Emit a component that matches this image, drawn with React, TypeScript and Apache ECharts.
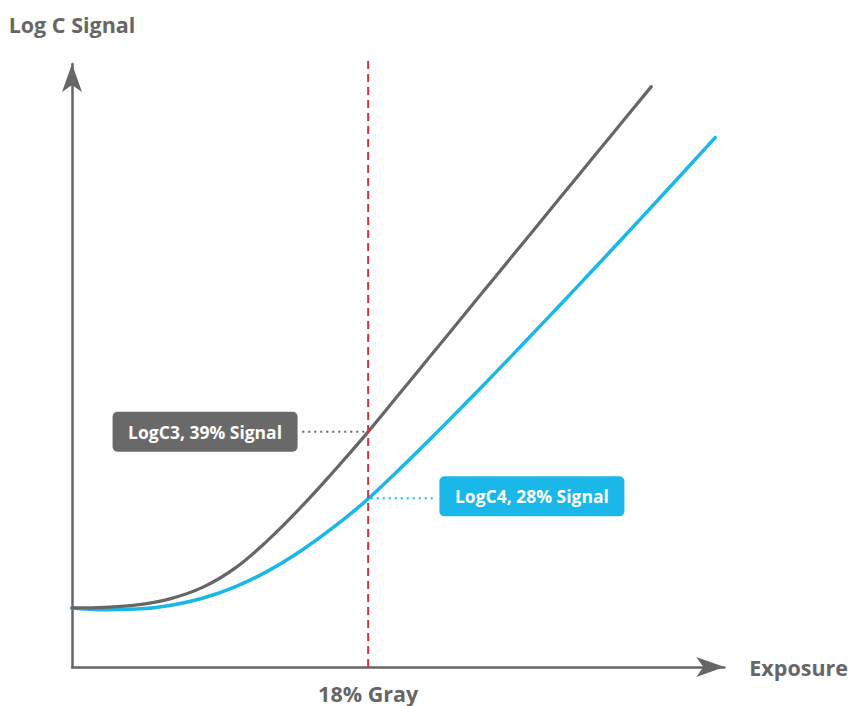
import React, { useEffect, useRef } from "react";
import * as echarts from "echarts";

// Exposure (arbitrary linear units, 0-100) and Log C signal (%)
const logC3X = [0, 5, 10, 15, 20, 25, 30, 35, 40, 45, 50, 55, 60, 65, 70, 75, 80, 85, 88.8];
const logC3Y = [9.8, 9.9, 10.3, 11.3, 13.2, 16.4, 21.0, 26.4, 32.3, 38.5, 45.05, 51.65, 58.25, 64.85, 71.45, 78.05, 84.65, 91.25, 96.25];
const logC4X = [0, 5, 10, 15, 20, 25, 30, 35, 40, 45, 50, 55, 60, 65, 70, 75, 80, 85, 90, 95, 98.6];
const logC4Y = [9.8, 9.5, 9.6, 10.2, 11.4, 13.3, 15.9, 19.2, 23.1, 27.5, 32.6, 37.9, 43.35, 48.9, 54.55, 60.25, 66.0, 71.8, 77.65, 83.55, 87.8];

const grayX = 45.4; // 18% gray exposure
const grayLineY = [0, 101.2];
const logC3Signal = 39;
const logC4Signal = 28;
const logC3ConnectorX = [35.3, 45.4];
const logC4ConnectorX = [45.8, 55.6];
const logC3LabelPos = [20.4, 39.0];
const logC4LabelPos = [70.5, 28.3];

const xTickLabel = "18% Gray";
const xName = "Exposure";
const yName = "Log C Signal";
const logC3Label = "LogC3, 39% Signal";
const logC4Label = "LogC4, 28% Signal";

const FONT = "'Open Sans', sans-serif";
const GRAY = "#666666";
const BLUE = "#1ab8e8";
const RED = "#d0343c";

const zip = (xs: number[], ys: number[]) => xs.map((x, i) => [x, ys[i]]);

export default function App() {
  const ref = useRef<HTMLDivElement>(null);
  useEffect(() => {
    if (!ref.current) return;
    const chart = echarts.init(ref.current, null, { renderer: "svg" });
    const boxLabel = (text: string, bg: string) => ({
      show: true,
      position: "inside",
      formatter: text,
      color: "#ffffff",
      fontSize: 17.5,
      fontWeight: "bold",
      fontFamily: FONT,
      backgroundColor: bg,
      borderRadius: 5,
      width: 185,
      height: 40,
      lineHeight: 40,
      align: "center",
      verticalAlign: "middle",
      padding: 0,
    });
    const axisText = { color: GRAY, fontSize: 21.5, fontWeight: "bold", fontFamily: FONT };
    chart.setOption({
      animation: false,
      grid: { left: 72, right: 125, top: 64, bottom: 39, containLabel: false },
      xAxis: {
        type: "value",
        min: 0,
        max: 100,
        name: xName,
        nameLocation: "end",
        nameGap: 25,
        nameTextStyle: { ...axisText, verticalAlign: "middle" },
        axisLine: { show: true, symbol: ["none", "arrow"], symbolSize: [15, 28], lineStyle: { color: GRAY, width: 2.5 } },
        axisTick: { show: false },
        splitLine: { show: false },
        axisLabel: {
          show: true,
          customValues: [grayX],
          formatter: () => xTickLabel,
          ...axisText,
          margin: 15,
        },
      },
      yAxis: {
        type: "value",
        min: 0,
        max: 100,
        name: yName,
        nameLocation: "end",
        nameGap: 29,
        nameTextStyle: { ...axisText, align: "center" },
        axisLine: { show: true, symbol: ["none", "arrow"], symbolSize: [15, 28], lineStyle: { color: GRAY, width: 2.5 } },
        axisTick: { show: false },
        splitLine: { show: false },
        axisLabel: { show: false },
      },
      series: [
        {
          name: "LogC4",
          type: "line",
          data: zip(logC4X, logC4Y),
          smooth: 0.4,
          showSymbol: false,
          lineStyle: { color: BLUE, width: 3.5, cap: "round" },
          z: 2,
          markPoint: {
            symbol: "circle",
            symbolSize: 0,
            itemStyle: { color: "transparent" },
            data: [{ coord: logC4LabelPos, label: boxLabel(logC4Label, BLUE) }],
          },
        },
        {
          name: "LogC3",
          type: "line",
          data: zip(logC3X, logC3Y),
          smooth: 0.4,
          showSymbol: false,
          lineStyle: { color: GRAY, width: 3.2, cap: "round" },
          z: 3,
          markPoint: {
            symbol: "circle",
            symbolSize: 0,
            itemStyle: { color: "transparent" },
            data: [{ coord: logC3LabelPos, label: boxLabel(logC3Label, "#696969") }],
          },
        },
        {
          name: "LogC3 connector",
          type: "line",
          data: logC3ConnectorX.map((x) => [x, logC3Signal]),
          showSymbol: false,
          lineStyle: { color: GRAY, width: 2, type: [2, 4] },
          z: 1,
        },
        {
          name: "LogC4 connector",
          type: "line",
          data: logC4ConnectorX.map((x) => [x, logC4Signal]),
          showSymbol: false,
          lineStyle: { color: BLUE, width: 2, type: [2, 4] },
          z: 1,
        },
        {
          name: "18% Gray",
          type: "line",
          data: grayLineY.map((y) => [grayX, y]),
          showSymbol: false,
          clip: false,
          lineStyle: { color: RED, width: 2, type: [8, 5] },
          z: 5,
        },
      ],
    });
    return () => chart.dispose();
  }, []);
  return (
    <div
      ref={ref}
      style={{ position: "absolute", left: 0, top: 0, width: 851, height: 706, background: "#fff" }}
    />
  );
}
